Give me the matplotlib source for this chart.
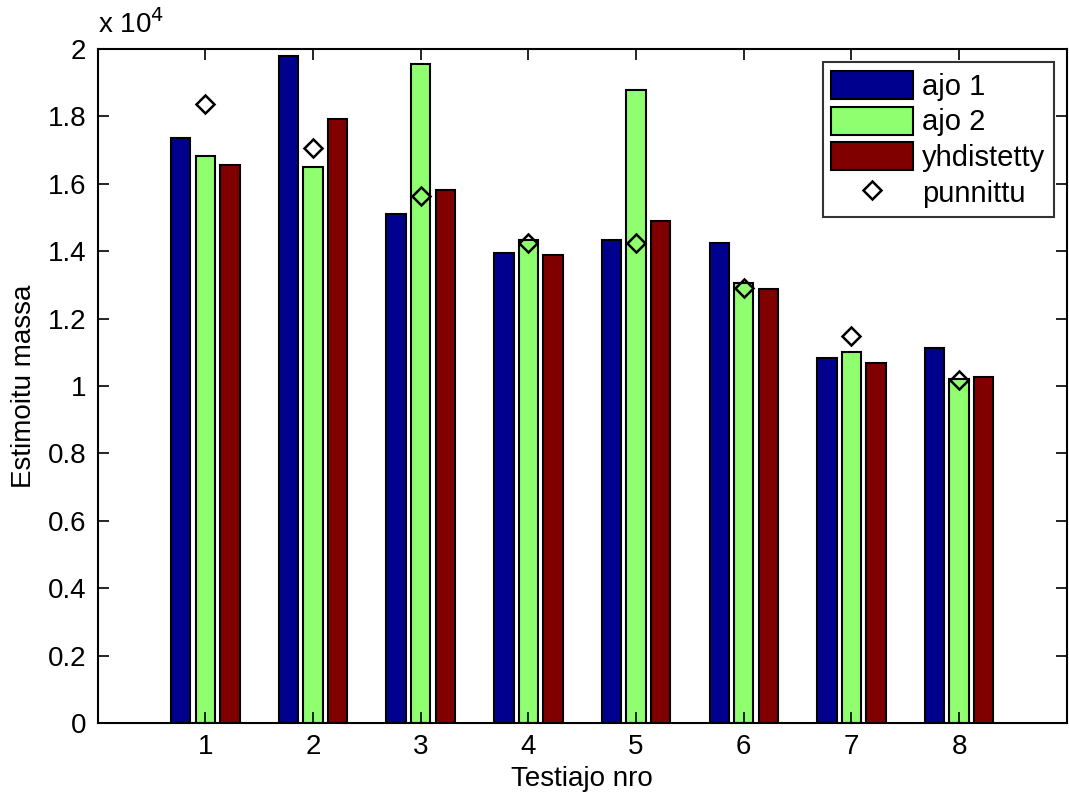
import matplotlib.pyplot as plt
import numpy as np

# Testiajot ja estimoidut massat (kg)
testiajot = [1, 2, 3, 4, 5, 6, 7, 8]
ajo1 = [17350, 19800, 15090, 13940, 14330, 14250, 10820, 11130]
ajo2 = [16820, 16510, 19560, 14330, 18780, 13050, 11020, 10210]
yhdistetty = [16570, 17930, 15820, 13890, 14880, 12890, 10670, 10260]
punnittu = [18360, 17050, 15650, 14250, 14250, 12900, 11490, 10180]

plt.rcParams['font.family'] = ['Liberation Sans', 'DejaVu Sans']

fig = plt.figure(figsize=(10.69, 8.02), dpi=100)
ax = fig.add_axes([0.0913, 0.0985, 0.9067, 0.8405])

x = np.array(testiajot)
w = 0.18
d = 0.228
b1 = ax.bar(x - d, ajo1, w, color='#00008F', edgecolor='black', linewidth=1.5, label='ajo 1')
b2 = ax.bar(x, ajo2, w, color='#8FFF70', edgecolor='black', linewidth=1.5, label='ajo 2')
b3 = ax.bar(x + d, yhdistetty, w, color='#800000', edgecolor='black', linewidth=1.5, label='yhdistetty')
p, = ax.plot(x, punnittu, linestyle='none', marker='D', markersize=9.5, markerfacecolor='none',
             markeredgecolor='black', markeredgewidth=1.8, label='punnittu')

ax.set_xlim(0, 9)
ax.set_ylim(0, 20000)
ax.set_xticks(testiajot)
yt = np.arange(0, 20001, 2000)
ax.set_yticks(yt)
ax.set_yticklabels(['0'] + ['%g' % (v / 1e4) for v in yt[1:]])

ax.tick_params(direction='in', length=8, width=1.2, labelsize=20, top=True, right=True, pad=8)
for s in ax.spines.values():
    s.set_linewidth(1.5)

ax.set_xlabel('Testiajo nro', fontsize=20, labelpad=4)
ax.set_ylabel('Estimoitu massa', fontsize=20, labelpad=8)
ax.text(0.0, 1.015, r'x 10$^{4}$', transform=ax.transAxes, fontsize=20,
        ha='left', va='bottom')

leg = ax.legend([b1, b2, b3, p], ['ajo 1', 'ajo 2', 'yhdistetty', 'punnittu'],
                loc='upper right', fontsize=21, frameon=True, fancybox=False,
                edgecolor='black', handlelength=2.8, handleheight=1.1,
                labelspacing=0.2, borderaxespad=0.45, borderpad=0.3,
                handletextpad=0.3)
leg.get_frame().set_linewidth(1.5)

plt.savefig('out.png', dpi=100)
